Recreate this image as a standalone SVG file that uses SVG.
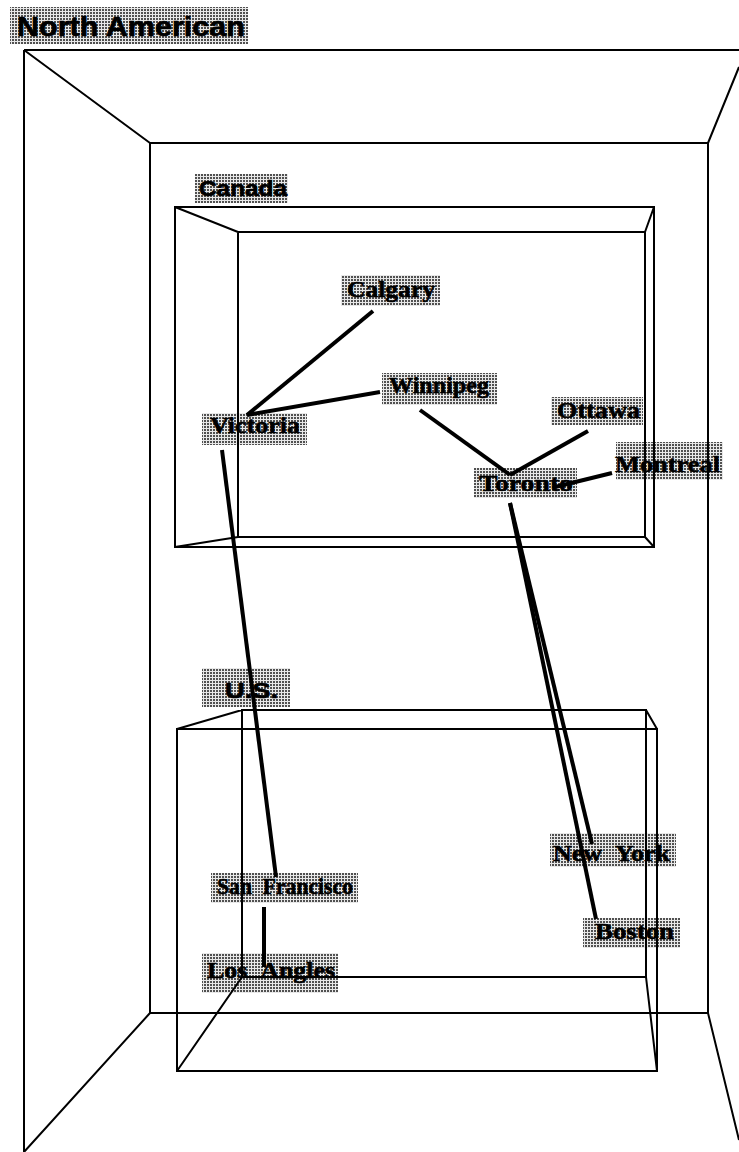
<svg xmlns="http://www.w3.org/2000/svg" width="739" height="1152" viewBox="0 0 739 1152">
  <defs>
    <!-- halftone fill used behind every label -->
    <pattern id="dots" width="3" height="3" patternUnits="userSpaceOnUse">
      <rect width="3" height="3" fill="#e8e8e8"/>
      <rect width="2" height="2" fill="#505050"/>
    </pattern>
    <style>
      .bg { fill: url(#dots); }
      .city { font-family: "Liberation Serif", "Times New Roman", serif; font-weight: bold; font-size: 24px; fill: #000; stroke: #000; stroke-width: 0.6; }
      .title { font-family: "Liberation Sans", Arial, sans-serif; font-weight: bold; fill: #000; stroke: #000; stroke-width: 0.7; }
      .frame { fill: none; stroke: #000; stroke-width: 2; stroke-linejoin: miter; }
      .link { stroke: #000; stroke-width: 4; stroke-linecap: butt; fill: none; }
    </style>
  </defs>

  <rect width="739" height="1152" fill="#fff"/>

  <!-- city nodes -->
  <g id="calgary">
    <rect class="bg" x="341" y="275" width="99" height="31"/>
    <text class="city" x="347" y="297" textLength="88" lengthAdjust="spacingAndGlyphs">Calgary</text>
  </g>
  <g id="victoria">
    <rect class="bg" x="202" y="413" width="105" height="32"/>
    <text class="city" x="210" y="433" textLength="90" lengthAdjust="spacingAndGlyphs">Victoria</text>
  </g>
  <g id="winnipeg">
    <rect class="bg" x="382" y="373" width="115" height="32"/>
    <text class="city" x="389" y="393" textLength="100" lengthAdjust="spacingAndGlyphs">Winnipeg</text>
  </g>
  <g id="ottawa">
    <rect class="bg" x="551" y="397" width="92" height="28"/>
    <text class="city" x="557" y="418" textLength="83" lengthAdjust="spacingAndGlyphs">Ottawa</text>
  </g>
  <g id="toronto">
    <rect class="bg" x="474" y="468" width="103" height="30"/>
    <text class="city" x="479" y="491" textLength="94" lengthAdjust="spacingAndGlyphs">Toronto</text>
  </g>
  <g id="montreal">
    <rect class="bg" x="616" y="442" width="107" height="38"/>
    <text class="city" x="615" y="472" textLength="105" lengthAdjust="spacingAndGlyphs">Montreal</text>
  </g>
  <g id="new-york">
    <rect class="bg" x="550" y="833" width="126" height="34"/>
    <text class="city" x="553" y="861" textLength="117" lengthAdjust="spacingAndGlyphs">New&#160;&#160;York</text>
  </g>
  <g id="boston">
    <rect class="bg" x="583" y="918" width="97" height="30"/>
    <text class="city" x="595" y="939" textLength="79" lengthAdjust="spacingAndGlyphs">Boston</text>
  </g>
  <g id="san-francisco">
    <rect class="bg" x="211" y="873" width="147" height="30"/>
    <text class="city" x="217" y="894" textLength="136" lengthAdjust="spacingAndGlyphs">San&#160;&#160;Francisco</text>
  </g>
  <g id="los-angles">
    <rect class="bg" x="202" y="953" width="136" height="40"/>
    <text class="city" x="207" y="978" textLength="128" lengthAdjust="spacingAndGlyphs">Los&#160;&#160;Angles</text>
  </g>

  <!-- North American container: room in perspective -->
  <g id="north-american">
    <rect class="bg" x="10" y="7" width="238" height="37"/>
    <text class="title" x="17" y="36" font-size="27" textLength="228" lengthAdjust="spacingAndGlyphs">North American</text>
    <path class="frame" d="M24,50 H739 M24,50 V1152 M150,143 H708 V1013 H150 Z M24,50 L150,143 M708,143 L739,67 M150,1013 L24,1152 M708,1013 L739,1140"/>
  </g>

  <!-- Canada container -->
  <g id="canada">
    <rect class="bg" x="195" y="174" width="93" height="29"/>
    <text class="title" x="199" y="196" font-size="22" textLength="88" lengthAdjust="spacingAndGlyphs">Canada</text>
    <path class="frame" d="M175,207 H654 V547 H175 Z M238,232 H645 V537 H238 Z M175,207 L238,232 M654,207 L645,232 M175,547 L238,537 M654,547 L645,537"/>
  </g>

  <!-- U.S. container -->
  <g id="us">
    <rect class="bg" x="202" y="668" width="88" height="39"/>
    <text class="title" x="225" y="698" font-size="22" textLength="53" lengthAdjust="spacingAndGlyphs">U.S.</text>
    <path class="frame" d="M242,710 H646 V977 H242 Z M177,729 H657 V1071 H177 Z M177,729 L242,710 M646,710 L657,729 M242,977 L177,1071 M646,977 L657,1071"/>
  </g>

  <!-- connectors -->
  <g id="connectors">
    <line class="link" x1="247" y1="415" x2="373" y2="311"/>
    <line class="link" x1="247" y1="415" x2="380" y2="392"/>
    <line class="link" x1="420" y1="410" x2="510" y2="475"/>
    <line class="link" x1="510" y1="475" x2="588" y2="431"/>
    <line class="link" x1="555" y1="487" x2="612" y2="473"/>
    <line class="link" x1="222" y1="450" x2="276" y2="877"/>
    <line class="link" x1="264" y1="907" x2="264" y2="967"/>
    <line class="link" x1="510" y1="503" x2="592" y2="844"/>
    <line class="link" x1="510" y1="503" x2="596" y2="919"/>
  </g>
</svg>
